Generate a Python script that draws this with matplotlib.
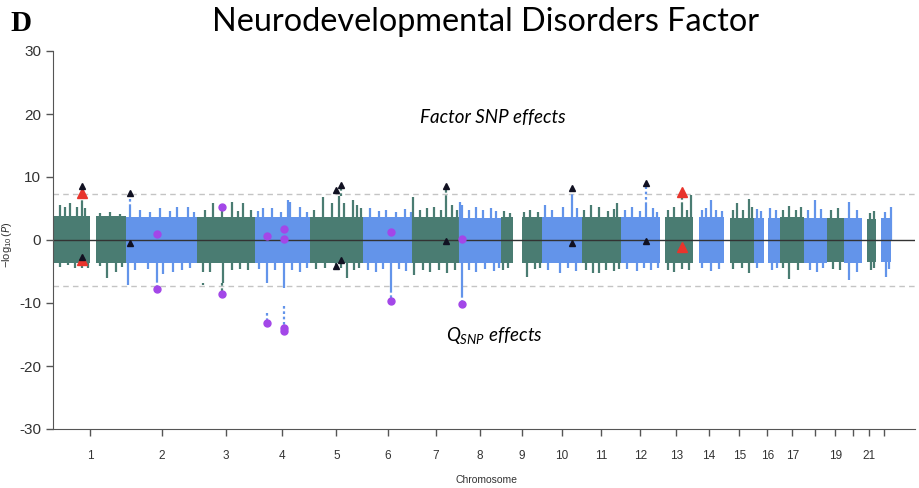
import numpy as np
import matplotlib
matplotlib.use("Agg")
import matplotlib.pyplot as plt

plt.rcParams["axes.unicode_minus"] = False
plt.rcParams["font.family"] = ["Liberation Sans", "DejaVu Sans"]
plt.rcParams["mathtext.fontset"] = "custom"
plt.rcParams["mathtext.it"] = "Lato:italic"
plt.rcParams["mathtext.rm"] = "Liberation Sans"

# chromosome lengths (Mb) and the stretches that carry SNPs
chrom_len = [249.25, 243.2, 198.0, 191.15, 180.9, 171.1, 159.1, 146.4, 141.2, 135.5, 135.0,
             133.85, 115.2, 107.35, 102.5, 90.35, 81.2, 78.1, 59.1, 63.0, 48.1, 51.3]
chrom_segments = [[(0.8, 126), (144, 249)], [(0, 243)], [(0, 198)], [(0, 191)], [(0, 181)],
                  [(0, 171)], [(0, 159)], [(0, 146)], [(0, 39), (70, 141)], [(0, 135.5)],
                  [(0, 135)], [(0, 134)], [(19, 115)], [(19, 107)], [(20, 102.5)],
                  [(0, 35), (46, 90)], [(0, 81)], [(0, 78)], [(0, 59)], [(0, 63)],
                  [(15, 48)], [(17, 51)]]
tick_labels = ["1", "2", "3", "4", "5", "6", "7", "8", "9", "10", "11", "12", "13", "14",
               "15", "16", "17", "", "19", "", "21", ""]

# dense bulk of the SNP cloud (-log10 P), upper = factor, lower = Q_SNP
band_top = [3.8, 3.7, 3.7, 3.6, 3.7, 3.6, 3.7, 3.5, 3.6, 3.6, 3.7,
            3.6, 3.6, 3.6, 3.5, 3.5, 3.6, 3.5, 3.5, 3.5, 3.4, 3.5]
band_bot = [-3.6, -3.7, -3.7, -3.6, -3.7, -3.6, -3.6, -3.6, -3.6, -3.6, -3.7,
            -3.6, -3.6, -3.6, -3.6, -3.6, -3.6, -3.6, -3.5, -3.6, -3.5, -3.5]

# taller columns sticking out of the bulk: chrom -> [(pos Mb, value)]
upper_peaks = {
    1: [(21, 5.6), (38, 5.3), (55, 5.8), (79, 5.2), (96, 5.9), (107, 5.0), (158, 4.3), (192, 4.4), (227, 4.2)],
    2: [(12, 5.3), (46, 4.7), (80, 4.5), (115, 5.0), (150, 4.6), (174, 5.3), (211, 5.3), (232, 4.5)],
    3: [(27, 4.8), (54, 5.8), (85, 4.9), (119, 6.1), (140, 4.6), (157, 5.9), (185, 4.7)],
    4: [(11, 4.6), (28, 5.1), (59, 5.0), (90, 4.5), (114, 6.3), (121, 6.0), (155, 5.3), (180, 4.5)],
    5: [(15, 4.8), (43, 6.9), (77, 5.8), (101, 7.0), (116, 5.8), (146, 6.3), (163, 5.6), (175, 5.0)],
    6: [(24, 5.1), (55, 4.6), (82, 4.8), (115, 4.4), (144, 4.9), (165, 4.5)],
    7: [(3, 6.9), (25, 4.8), (49, 5.1), (76, 5.3), (100, 4.7), (114, 6.6), (138, 5.6), (152, 4.8)],
    8: [(3, 6.0), (13, 5.5), (35, 4.8), (60, 5.2), (85, 4.7), (110, 5.0), (130, 4.6)],
    9: [(10, 4.6), (30, 4.3), (80, 4.5), (100, 4.8), (125, 4.4)],
    10: [(8, 5.6), (35, 4.8), (70, 5.3), (104, 6.8), (120, 5.0)],
    11: [(10, 4.7), (34, 5.5), (61, 5.2), (90, 4.6), (110, 4.9), (123, 5.8)],
    12: [(15, 4.8), (40, 5.2), (65, 4.6), (88, 5.5), (110, 5.0), (125, 4.5)],
    13: [(30, 4.8), (50, 5.2), (77, 5.5), (95, 4.7), (109, 7.1)],
    14: [(30, 4.7), (45, 5.0), (62, 6.3), (80, 4.8), (100, 4.6)],
    15: [(30, 4.8), (44, 5.9), (65, 4.7), (85, 6.5), (95, 5.2)],
    16: [(10, 4.9), (25, 4.6), (55, 5.0), (75, 4.7)],
    17: [(10, 4.8), (30, 5.4), (55, 4.7), (70, 5.3)],
    18: [(15, 4.7), (38, 6.3), (60, 4.9)],
    19: [(15, 4.8), (40, 5.0)],
    20: [(18, 6.0), (45, 4.8)],
    21: [(25, 4.3), (40, 4.6)],
    22: [(30, 4.5), (50, 5.3)],
}
lower_peaks = {
    1: [(21, -4.3), (50, -4.0), (72, -4.4), (96, -4.5), (117, -4.4), (160, -4.2), (182, -6.1), (213, -5.0), (235, -4.3)],
    2: [(5, -7.1), (30, -4.8), (74, -4.6), (105, -6.3), (126, -5.4), (160, -5.1), (191, -4.8), (220, -4.4)],
    3: [(20, -5.0), (44, -5.1), (89, -6.9), (120, -4.7), (147, -4.6), (175, -4.8)],
    4: [(15, -4.6), (42, -6.8), (70, -4.8), (100, -7.6), (130, -4.7), (155, -5.0), (180, -4.5)],
    5: [(20, -4.6), (50, -4.4), (88, -4.6), (105, -4.4), (126, -6.1), (150, -4.8), (170, -4.5)],
    6: [(20, -4.8), (45, -5.0), (70, -4.6), (96, -8.0), (125, -4.6), (150, -4.9)],
    7: [(5, -5.5), (35, -4.7), (60, -5.0), (90, -4.8), (120, -5.3), (145, -4.7)],
    8: [(12, -8.7), (35, -4.8), (60, -5.0), (90, -4.6), (120, -4.9), (140, -4.5)],
    9: [(5, -4.8), (25, -4.5), (90, -5.9), (115, -4.6), (135, -4.5)],
    10: [(20, -4.8), (60, -5.2), (90, -4.5), (115, -4.9)],
    11: [(15, -4.8), (40, -5.2), (60, -5.3), (85, -4.7), (110, -4.9), (128, -4.6)],
    12: [(20, -4.6), (55, -4.9), (80, -4.5), (105, -4.8), (128, -4.4)],
    13: [(30, -4.8), (50, -5.0), (77, -4.6), (100, -4.7)],
    14: [(30, -4.5), (60, -4.9), (90, -4.6)],
    15: [(30, -4.6), (60, -4.4), (85, -5.2)],
    16: [(10, -4.5), (60, -4.7), (80, -4.4)],
    17: [(10, -4.5), (30, -6.2), (60, -4.8)],
    18: [(20, -4.7), (45, -5.0), (65, -4.5)],
    19: [(20, -4.6), (45, -4.8)],
    20: [(18, -6.3), (45, -5.0)],
    21: [(30, -4.8), (40, -4.4)],
    22: [(34, -5.9), (45, -4.6)],
}
# sparse dotted runs of SNPs leading to the lead hits: (chrom, pos, from, to)
tails = [(1, 96, 5.9, 7.4), (2, 12, 5.3, 7.3), (5, 105, 7.0, 8.5), (7, 114, 6.6, 8.3),
         (10, 104, 6.8, 8.0), (12, 88, 5.5, 8.8), (13, 77, 5.5, 7.4),
         (2, 105, -6.3, -7.6), (3, 85, -6.9, -8.4), (4, 42, -11.6, -13.0),
         (4, 100, -10.5, -14.0), (6, 96, -8.0, -9.5), (8, 12, -8.7, -9.9), (3, 20, -6.9, -7.1)]

# lead SNPs: (chrom, pos Mb, -log10 P)
black_up = [(1, 96, 8.6), (2, 12, 7.5), (5, 88, 7.9), (5, 105, 8.7), (7, 114, 8.5), (10, 104, 8.2), (12, 88, 9.0)]
black_dn = [(1, 96, -2.7), (2, 12, -0.5), (5, 88, -4.2), (5, 105, -3.1), (7, 114, -0.1), (10, 104, -0.4), (12, 88, -0.1)]
red_up = [(1, 96, 7.5), (13, 77, 7.6)]
red_dn = [(1, 96, -3.2), (13, 77, -1.1)]
purple_up = [(2, 105, 1.0), (3, 85, 5.2), (4, 42, 0.6), (4, 100, 1.7), (4, 100, 0.2), (6, 96, 1.3), (8, 12, 0.1)]
purple_dn = [(2, 105, -7.8), (3, 85, -8.6), (4, 42, -13.2), (4, 100, -14.0), (4, 100, -14.4), (6, 96, -9.7), (8, 12, -10.1)]

green = "#4a7c72"
blue = "#6394ea"
offsets = np.concatenate([[0], np.cumsum(chrom_len)[:-1]])


def gx(chrom, pos):
    return offsets[chrom - 1] + pos


fig = plt.figure(figsize=(9.19, 4.88), dpi=100)
ax = fig.add_axes([53 / 919, 1 - 429 / 488, 862 / 919, 378 / 488])

for i in range(len(chrom_len)):
    c = green if i % 2 == 0 else blue
    for s, e in chrom_segments[i]:
        ax.fill_between([offsets[i] + s, offsets[i] + e], band_bot[i], band_top[i],
                        color=c, lw=0, zorder=1)
    for pos, v in upper_peaks[i + 1] + lower_peaks[i + 1]:
        ax.vlines(offsets[i] + pos, 0, v, color=c, lw=1.6, zorder=1)

for ch, pos, y0, y1 in tails:
    c = green if (ch - 1) % 2 == 0 else blue
    ax.vlines(gx(ch, pos), y0, y1, color=c, lw=1.6, linestyles=(0, (1.2, 1.2)), zorder=1)

ax.axhline(7.3, color="#c4c4c4", lw=1, ls=(0, (4, 3)), zorder=0.5)
ax.axhline(-7.3, color="#c4c4c4", lw=1, ls=(0, (4, 3)), zorder=0.5)
ax.axhline(0, color="#333333", lw=1, zorder=2)


def pts(lst):
    return [gx(c, p) for c, p, v in lst], [v for c, p, v in lst]


x, y = pts(black_up + black_dn)
ax.plot(x, y, "^", color="#111122", ms=4.5, ls="none", zorder=4)
x, y = pts(red_up + red_dn)
ax.plot(x, y, "^", color="#e8342c", ms=7, ls="none", zorder=3)
x, y = pts(purple_up + purple_dn)
ax.plot(x, y, "o", color="#a347e8", ms=5, ls="none", zorder=3)

ax.set_xlim(-3, 2963)
ax.set_ylim(-30, 30)
ax.set_yticks([-30, -20, -10, 0, 10, 20, 30])
centers = offsets + np.array(chrom_len) / 2
ax.set_xticks(centers)
ax.set_xticklabels(tick_labels)
ax.tick_params(axis="y", labelsize=11, colors="#555555", labelcolor="#333333", length=5, width=1)
ax.tick_params(axis="x", labelsize=8.5, colors="#555555", labelcolor="#333333", length=5, width=1, pad=10)
for side in ["top", "right"]:
    ax.spines[side].set_visible(False)
for side in ["left", "bottom"]:
    ax.spines[side].set_color("#555555")

ax.text(1509, 19.4, "Factor SNP effects", style="italic", family="Lato", fontsize=13.5,
        ha="center", va="center")
ax.text(1516, -15.1, r"$Q_{SNP}\ effects$", fontsize=13.5, ha="center", va="center")

fig.text(486 / 919, 1 - 22 / 488, "Neurodevelopmental Disorders Factor", family="Lato",
         fontsize=23.3, ha="center", va="center")
fig.text(10 / 919, 1 - 31 / 488, "D", family="Liberation Serif", weight="bold",
         fontsize=21, ha="left", va="baseline")
fig.text(486 / 919, 1 - 480 / 488, "Chromosome", fontsize=7.5, ha="center", va="center",
         color="#333333")
fig.text(7.5 / 919, 1 - 245 / 488, r"$-\log_{10}(P)$", fontsize=8, rotation=90,
         ha="center", va="center", color="#333333")

fig.savefig("out.png", dpi=100)
